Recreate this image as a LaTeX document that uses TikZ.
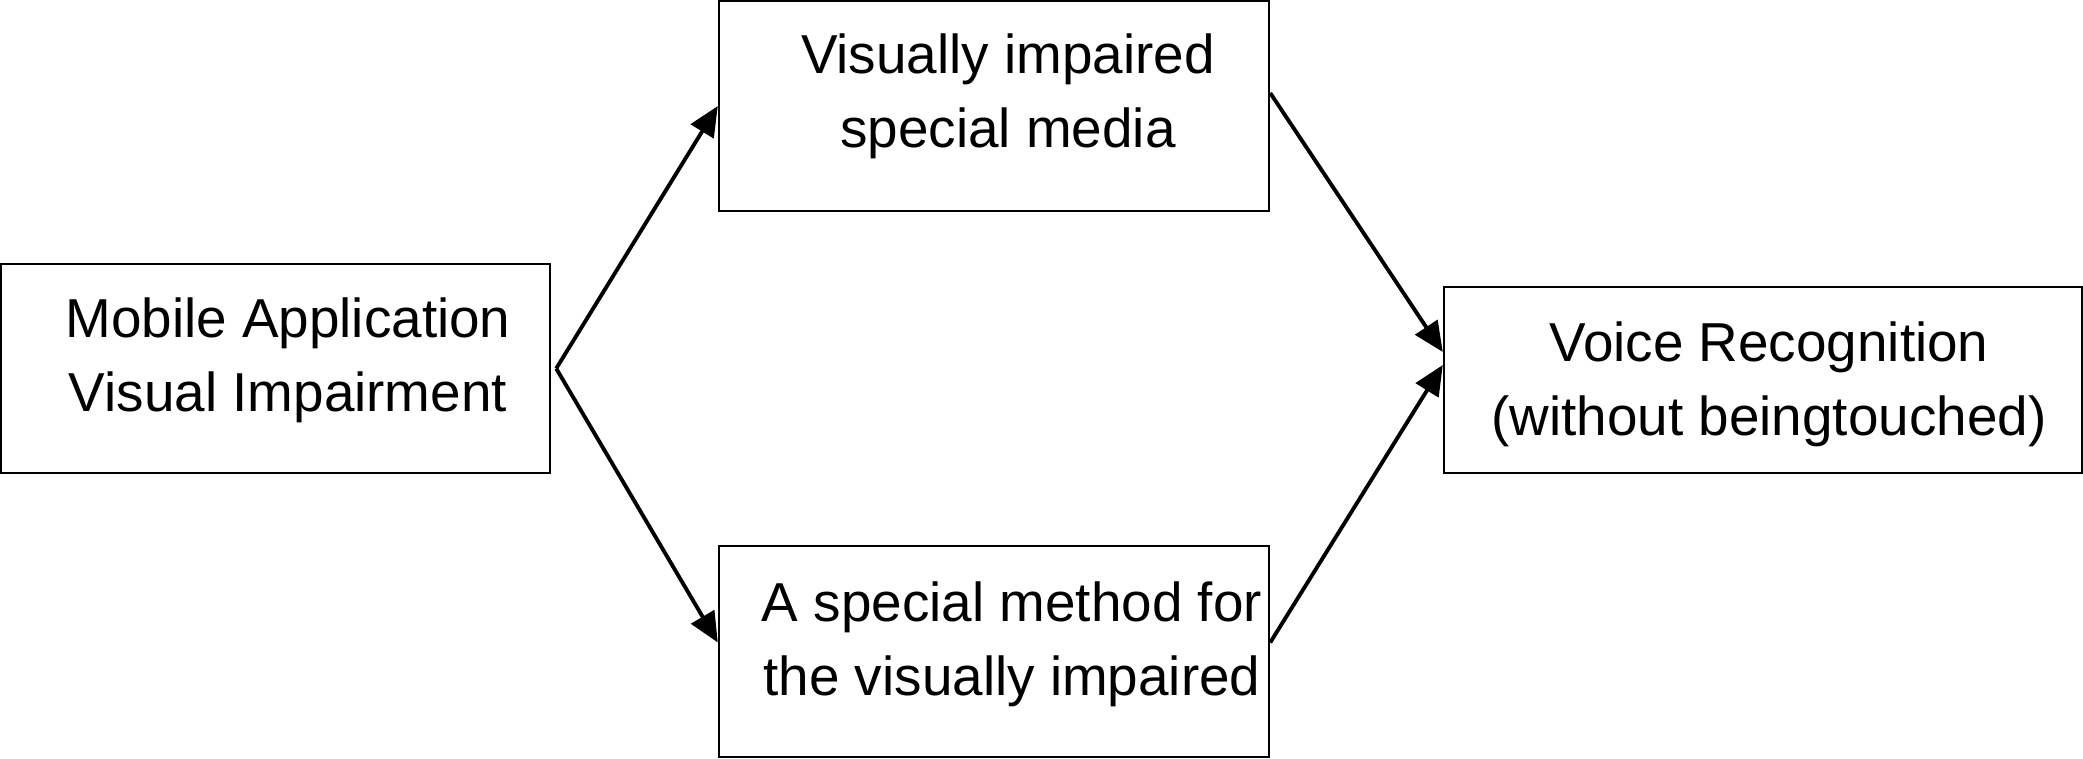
\documentclass[tikz,border=0pt]{standalone}
\usepackage{fontspec}
\setmainfont{Liberation Sans}
\usetikzlibrary{arrows.meta, positioning}

\begin{document}
\begin{tikzpicture}[
    x=0.01cm, y=-0.01cm,
    box/.style={rectangle, draw, line width=0.6pt, inner sep=0pt},
    txt/.style={align=center, font=\fontsize{15.6}{21}\selectfont, inner sep=0pt},
    arrow/.style={-{Triangle[length=8.5pt, width=7.5pt]}, line width=1.1pt}
]
    \useasboundingbox (0,0) rectangle (2083,758);

    % Boxes
    \node[box, minimum width=5.49cm, minimum height=2.09cm] (app)    at (275.5,368.5) {};
    \node[box, minimum width=5.50cm, minimum height=2.10cm] (media)  at (994,106)     {};
    \node[box, minimum width=5.50cm, minimum height=2.11cm] (method) at (994,651.5)   {};
    \node[box, minimum width=6.38cm, minimum height=1.86cm] (voice)  at (1763,380)    {};

    % Texts
    \node[txt] (appText)    at (288,360)  {Mobile Application\\Visual Impairment};
    \node[txt] (mediaText)  at (1008,96)  {Visually impaired\\special media};
    \node[txt] (methodText) at (1012,644) {A special method for\\the visually impaired};
    \node[txt] (voiceText)  at (1769,384) {Voice Recognition\\(without beingtouched)};

    % Arrows
    \coordinate (fork) at ([xshift=0.05cm]app.east);
    \draw[arrow] (fork) -- (media.west);
    \draw[arrow] (fork) -- ([yshift=0.09cm]method.west);
    \draw[arrow] ([yshift=0.13cm]media.east)  -- ([yshift=0.28cm]voice.west);
    \draw[arrow] ([yshift=0.09cm]method.east) -- ([yshift=0.15cm]voice.west);

\end{tikzpicture}
\end{document}
